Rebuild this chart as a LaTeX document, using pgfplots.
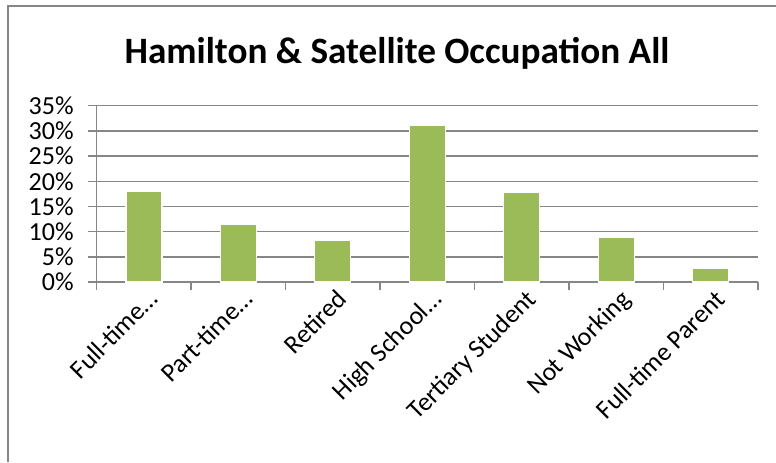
\documentclass[border=0pt]{standalone}
\usepackage{fontspec}
\setmainfont{Carlito}
\usepackage{pgfplots}
\pgfplotsset{compat=1.18}
\definecolor{bargreen}{HTML}{9BBB59}
\definecolor{gridgray}{HTML}{868686}
\begin{document}
\begin{tikzpicture}
\useasboundingbox (0,0) rectangle (388pt,231pt);
% chart frame (cropped at right and bottom)
\draw[gridgray, line width=1pt] (4pt,0) -- (4pt,228pt) -- (388pt,228pt);
\node[anchor=base, font=\fontsize{18.6}{22}\selectfont\bfseries] at (198.5pt,199.5pt)
  {Hamilton \& Satellite Occupation All};
\begin{axis}[
    at={(48.35pt,90pt)}, anchor=south west,
    scale only axis,
    width=330.6pt, height=88.15pt,
    ybar, bar width=18pt,
    xmin=-0.5, xmax=6.5,
    ymin=0, ymax=35,
    axis x line*=bottom, axis y line*=left,
    axis line style={gridgray, line width=0.75pt},
    xtick={0,...,6},
    xticklabels={Full-time…, Part-time…, Retired, High School…, Tertiary Student, Not Working, Full-time Parent},
    minor xtick={-0.5,0.5,...,6.5},
    ytick={0,5,...,35},
    yticklabels={0\%,5\%,10\%,15\%,20\%,25\%,30\%,35\%},
    tick align=outside,
    major tick length=4.3pt,
    minor tick length=4pt,
    major x tick style={draw=none},
    minor x tick style={gridgray, line width=0.75pt},
    major y tick style={gridgray, line width=0.75pt},
    ymajorgrids,
    grid style={gridgray, line width=0.75pt},
    tick label style={font=\fontsize{13}{15}\selectfont, black},
    xticklabel style={rotate=45, anchor=north east, inner sep=1pt, xshift=3pt, yshift=1pt},
    yticklabel style={xshift=-3.7pt},
]
\addplot[fill=bargreen, draw=white, line width=0.6pt] coordinates {
    (0,17.9) (1,11.4) (2,8.3) (3,31.1) (4,17.8) (5,8.9) (6,2.8)
};
\end{axis}
\end{tikzpicture}
\end{document}
